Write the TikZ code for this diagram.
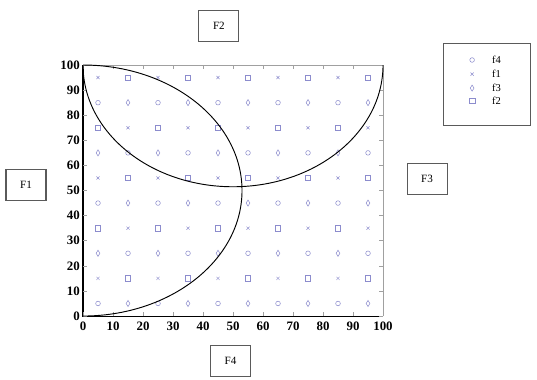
\documentclass[tikz,border=0pt]{standalone}
\usepackage{fontspec}
\setmainfont{Liberation Serif}
\usepackage{xcolor}
\usepackage{tikz}
\usetikzlibrary{
arrows.meta,
positioning,
shapes.geometric,
shapes.misc
}
\definecolor{mkblue}{RGB}{140,140,205}
\definecolor{frmgray}{RGB}{160,160,160}
\definecolor{boxgray}{RGB}{90,90,90}

\begin{document}
\begin{tikzpicture}[
  x=0.09cm, y=0.0753cm,
  every node/.style={font=\fontsize{9}{10}\selectfont},
  fbox/.style={draw=boxgray, line width=0.9pt,
               minimum width=1.2cm, minimum height=0.95cm,
               inner sep=2pt, font=\fontsize{9.5}{10}\selectfont},
  ticklab/.style={font=\fontsize{11}{12}\selectfont\bfseries, inner sep=1pt},
  cimark/.style={draw=mkblue, circle, minimum size=0.14cm, inner sep=0pt, line width=0.45pt},
  dimark/.style={draw=mkblue, diamond, aspect=0.7, minimum width=0.12cm,
                 minimum height=0.19cm, inner sep=0pt, line width=0.45pt},
  xmark/.style={draw=mkblue, cross out, minimum size=0.08cm, inner sep=0pt, line width=0.4pt},
  sqmark/.style={draw=mkblue, rectangle, minimum size=0.16cm, inner sep=0pt, line width=0.45pt},
  curve/.style={line width=0.8pt, black}
]
\useasboundingbox (-27.67,-25.1) rectangle (151.33,125.9);

%% Frame of the plot
\draw[frmgray, line width=0.6pt] (0,100) -- (100,100) -- (100,0);
\draw[black, line width=0.9pt] (0,100) -- (0,0) -- (100,0);

%% Ticks and tick labels
\foreach \v in {0,10,...,100}{
  \draw[frmgray, line width=0.4pt] (\v,0) -- (\v,1.5);
  \draw[frmgray, line width=0.4pt] (\v,100) -- (\v,98.5);
  \draw[frmgray, line width=0.4pt] (0,\v) -- (1.2,\v);
  \draw[frmgray, line width=0.4pt] (100,\v) -- (98.8,\v);
  \node[ticklab, anchor=east] (yl\v) at (-0.6,\v) {\v};
  \node[ticklab, anchor=north] (xl\v) at (\v,-1.8) {\v};
}

%% Sample points
\foreach \i in {0,...,9}{
  \foreach \j in {0,...,9}{
    \pgfmathtruncatemacro{\kind}{mod(\i+floor(\j/2),2)+2*mod(\j,2)}
    \ifcase\kind
      \node[cimark] (m-\i-\j) at (5+10*\i,5+10*\j) {};
    \or
      \node[dimark] (m-\i-\j) at (5+10*\i,5+10*\j) {};
    \or
      \node[xmark] (m-\i-\j) at (5+10*\i,5+10*\j) {};
    \or
      \node[sqmark] (m-\i-\j) at (5+10*\i,5+10*\j) {};
    \fi
  }
}

%% Boundary curves
\draw[curve] (0,100) arc[start angle=180, end angle=360, x radius=50, y radius=48.5];
\draw[curve] (0,100) arc[start angle=90, end angle=-90, x radius=53, y radius=50];

%% Side labels
\node[fbox] (F2) at (45.3,115.5) {F2};
\node[fbox] (F1) at (-19,52.2) {F1};
\node[fbox] (F3) at (114.7,54.6) {F3};
\node[fbox] (F4) at (49.2,-17.9) {F4};

%% Legend
\node[draw=boxgray, line width=0.6pt, minimum width=2.61cm, minimum height=2.46cm]
  (legend) at (134.5,92.45) {};
\node[cimark] (lg1) at (129.7,102) {};
\node[xmark]  (lg2) at (129.7,96.4) {};
\node[dimark] (lg3) at (129.7,90.8) {};
\node[sqmark] (lg4) at (129.7,85.7) {};
\node[anchor=west, inner sep=0pt] (lt1) at (136.3,102) {f4};
\node[anchor=west, inner sep=0pt] (lt2) at (136.3,96.4) {f1};
\node[anchor=west, inner sep=0pt] (lt3) at (136.3,90.8) {f3};
\node[anchor=west, inner sep=0pt] (lt4) at (136.3,85.7) {f2};

\end{tikzpicture}
\end{document}
